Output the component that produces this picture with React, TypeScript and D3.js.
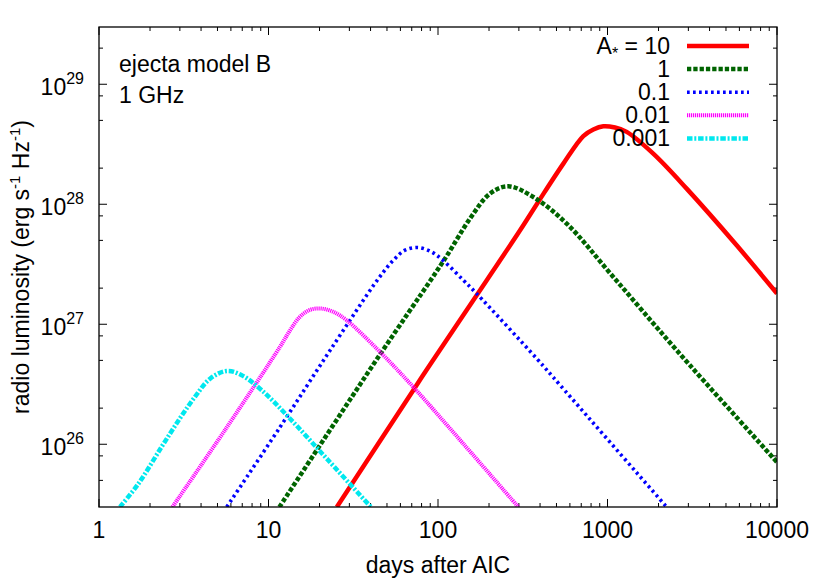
import * as d3 from 'd3'

// radio light curves at 1 GHz, ejecta model B
const DAYS_A10 = [25.3, 71.5, 89.7, 194, 305, 391, 549, 720, 825, 945, 1107, 1298, 1862, 2931, 5781, 10000]
const LUM_A10 = [3.0e25, 2.82e26, 4.6e26, 2.33e27, 6.07e27, 1.05e28, 2.18e28, 3.7e28, 4.2e28, 4.47e28, 4.36e28, 4.01e28, 2.64e28, 1.35e28, 4.55e27, 1.8e27]

const DAYS_A1 = [11.6, 45.5, 91.8, 112.5, 154.5, 203, 260, 365, 574, 1082, 2559, 10000]
const LUM_A1 = [3.0e25, 5.6e26, 2.4e27, 3.7e27, 7.6e27, 1.23e28, 1.41e28, 1.15e28, 6.9e27, 2.48e27, 6.07e26, 7.1e25]

const DAYS_A01 = [5.67, 11.7, 23.1, 44.5, 54.5, 63.9, 76.5, 91.8, 107, 141, 169, 382, 525, 2234]
const LUM_A01 = [3.0e25, 1.39e26, 6.07e26, 2.4e27, 3.41e27, 4.14e27, 4.36e27, 4.0e27, 3.41e27, 2.33e27, 1.8e27, 5.18e26, 3.11e26, 3.0e25]

const DAYS_A001 = [2.71, 5.63, 11.7, 13.4, 15.3, 17.6, 20.6, 24.1, 28.9, 45.5, 71.5, 141, 298]
const LUM_A001 = [3.0e25, 1.36e26, 6.5e26, 8.9e26, 1.15e27, 1.32e27, 1.35e27, 1.27e27, 1.08e27, 5.88e26, 3.0e26, 1.01e26, 3.0e25]

const DAYS_A0001 = [1.33, 1.71, 2.34, 3.0, 3.68, 4.52, 5.67, 6.95, 9.12, 13.1, 22.5, 40.2]
const LUM_A0001 = [3.0e25, 4.7e25, 9.5e25, 1.64e26, 2.48e26, 3.52e26, 4.08e26, 3.76e26, 2.82e26, 1.69e26, 7.36e25, 3.0e25]

const SERIES_LABELS = ['10', '1', '0.1', '0.01', '0.001']
const SERIES_DAYS = [DAYS_A10, DAYS_A1, DAYS_A01, DAYS_A001, DAYS_A0001]
const SERIES_LUM = [LUM_A10, LUM_A1, LUM_A01, LUM_A001, LUM_A0001]

const X_TICKS = [1, 10, 100, 1000, 10000]
const Y_EXPONENTS = [26, 27, 28, 29]

// line styles, same order as the series
const STYLES = [
  { color: '#ff0000', width: 4.5, dash: 'none' },
  { color: '#006400', width: 4.5, dash: '4.3 2' },
  { color: '#0000ff', width: 3.6, dash: '2.7 3.3' },
  { color: '#ff00ff', width: 4, dash: '1.2 0.8' },
  { color: '#00e8ee', width: 4.5, dash: '5.5 1.8 2 1.8' },
]

const W = 830
const H = 581
const LEFT = 99
const RIGHT = 777
const TOP = 27
const BOTTOM = 507
const FONT = '"Liberation Sans", Arial, Helvetica, sans-serif'

export default function App() {
  const x = d3.scaleLog().domain([1, 10000]).range([LEFT, RIGHT])
  const y = d3.scaleLog().domain([3e25, 3e29]).range([BOTTOM, TOP])

  // minor ticks
  const xMinor: number[] = []
  for (let e = 0; e < 4; e++) {
    for (let k = 2; k <= 9; k++) xMinor.push(k * Math.pow(10, e))
  }
  const yMinor: number[] = []
  for (let e = 25; e <= 29; e++) {
    ;[2, 5, 8].forEach(k => {
      const v = k * Math.pow(10, e)
      if (v >= 3e25 && v <= 3e29) yMinor.push(v)
    })
  }
  const yMajor = Y_EXPONENTS.map(e => Math.pow(10, e))

  const line = d3.line<[number, number]>()
    .x(d => x(d[0]))
    .y(d => y(d[1]))
    .curve(d3.curveCatmullRom.alpha(0.5))

  const legendRowY = (i: number) => 46 + i * 23.1

  return (
    <svg
      width={W}
      height={H}
      style={{ position: 'absolute', left: 0, top: 0, background: '#fff' }}
      fontFamily={FONT}
    >
      <defs>
        <clipPath id="plot-area">
          <rect x={LEFT} y={TOP} width={RIGHT - LEFT} height={BOTTOM - TOP} />
        </clipPath>
      </defs>

      {/* ticks on all four sides */}
      <g stroke="#000" strokeWidth={1}>
        {X_TICKS.map(t => (
          <g key={'xM' + t}>
            <line x1={x(t)} x2={x(t)} y1={BOTTOM} y2={BOTTOM - 8} />
            <line x1={x(t)} x2={x(t)} y1={TOP} y2={TOP + 8} />
          </g>
        ))}
        {xMinor.map(t => (
          <g key={'xm' + t}>
            <line x1={x(t)} x2={x(t)} y1={BOTTOM} y2={BOTTOM - 4} />
            <line x1={x(t)} x2={x(t)} y1={TOP} y2={TOP + 4} />
          </g>
        ))}
        {yMajor.map(v => (
          <g key={'yM' + v}>
            <line x1={LEFT} x2={LEFT + 8} y1={y(v)} y2={y(v)} />
            <line x1={RIGHT} x2={RIGHT - 8} y1={y(v)} y2={y(v)} />
          </g>
        ))}
        {yMinor.map(v => (
          <g key={'ym' + v}>
            <line x1={LEFT} x2={LEFT + 4} y1={y(v)} y2={y(v)} />
            <line x1={RIGHT} x2={RIGHT - 4} y1={y(v)} y2={y(v)} />
          </g>
        ))}
      </g>

      {/* curves */}
      <g clipPath="url(#plot-area)" fill="none">
        {SERIES_DAYS.map((days, i) => {
          const pts = days.map((d, j) => [d, SERIES_LUM[i][j]] as [number, number])
          const s = STYLES[i]
          return (
            <path
              key={SERIES_LABELS[i]}
              d={line(pts) || ''}
              stroke={s.color}
              strokeWidth={s.width}
              strokeDasharray={s.dash}
              strokeLinejoin="round"
            />
          )
        })}
      </g>

      {/* frame */}
      <rect
        x={LEFT}
        y={TOP}
        width={RIGHT - LEFT}
        height={BOTTOM - TOP}
        fill="none"
        stroke="#000"
        strokeWidth={1.3}
      />

      {/* tick labels */}
      <g fontSize={23} fill="#000">
        {X_TICKS.map(t => (
          <text key={'xl' + t} x={x(t)} y={538} textAnchor="middle">{t}</text>
        ))}
        {Y_EXPONENTS.map(e => (
          <text key={'yl' + e} x={84} y={y(Math.pow(10, e)) + 11} textAnchor="end">
            10<tspan dy={-11} fontSize={16}>{e}</tspan>
          </text>
        ))}
      </g>

      {/* axis titles */}
      <text x={(LEFT + RIGHT) / 2} y={573} textAnchor="middle" fontSize={23}>days after AIC</text>
      <text
        transform={`translate(29, ${(TOP + BOTTOM) / 2}) rotate(-90)`}
        textAnchor="middle"
        fontSize={23}
      >
        radio luminosity (erg s<tspan dy={-9} fontSize={15}>-1</tspan>
        <tspan dy={9}> Hz</tspan><tspan dy={-9} fontSize={15}>-1</tspan>
        <tspan dy={9}>)</tspan>
      </text>

      {/* annotations */}
      <text x={119} y={72} fontSize={23}>ejecta model B</text>
      <text x={119} y={103} fontSize={23}>1 GHz</text>

      {/* legend */}
      <g fontSize={23}>
        {SERIES_LABELS.map((lab, i) => {
          const ly = legendRowY(i)
          const s = STYLES[i]
          return (
            <g key={'lg' + lab}>
              {i === 0 ? (
                <text x={670} y={ly + 8} textAnchor="end">
                  A<tspan fontSize={16} dy={5}>*</tspan><tspan dy={-5}> = {lab}</tspan>
                </text>
              ) : (
                <text x={670} y={ly + 8} textAnchor="end">{lab}</text>
              )}
              <line
                x1={687}
                x2={749}
                y1={ly}
                y2={ly}
                stroke={s.color}
                strokeWidth={s.width}
                strokeDasharray={s.dash}
              />
            </g>
          )
        })}
      </g>
    </svg>
  )
}
